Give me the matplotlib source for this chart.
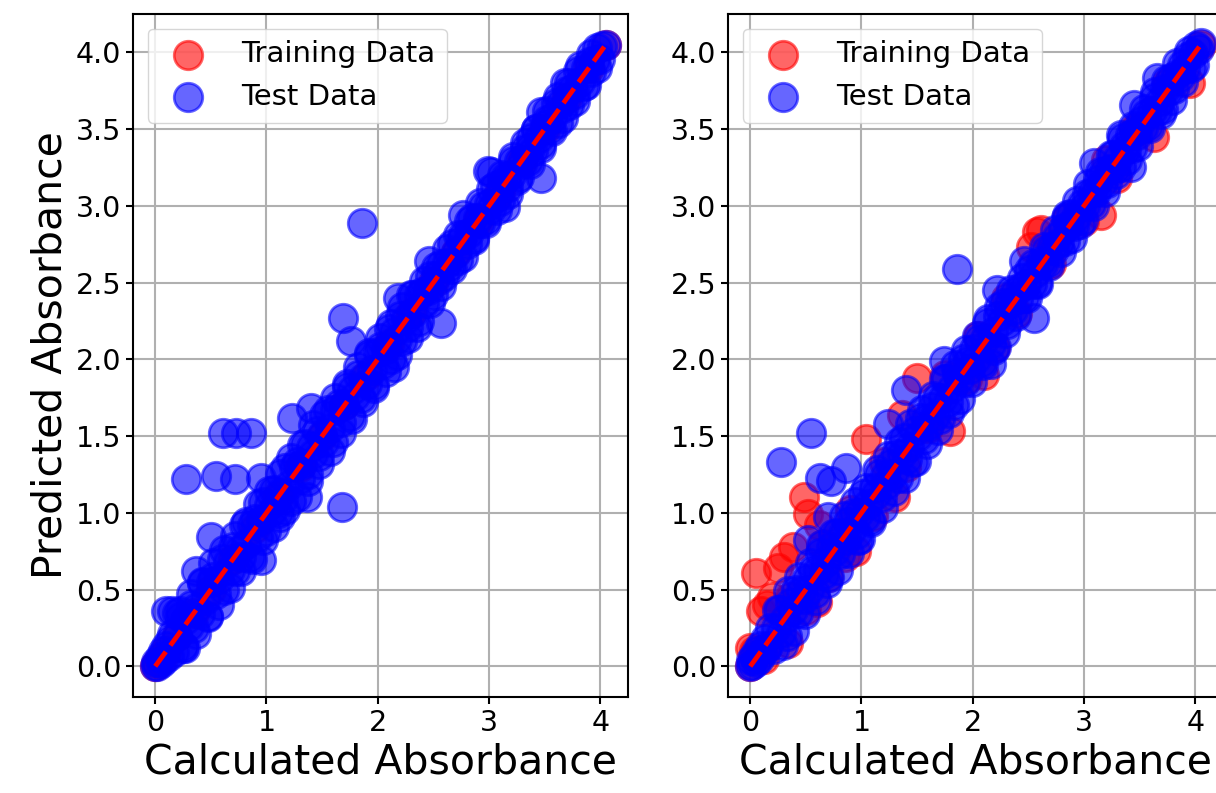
import numpy as np
import matplotlib
matplotlib.use("Agg")
import matplotlib.pyplot as plt

# ---- model A (left) ----
left_train = [
    (0.00, 0.00), (0.02, 0.02), (0.05, 0.05), (0.10, 0.10), (0.20, 0.20),
    (0.35, 0.35), (0.50, 0.50), (0.70, 0.70), (0.90, 0.90), (1.10, 1.10),
    (1.30, 1.30), (1.50, 1.50), (1.70, 1.70), (1.90, 1.90), (2.10, 2.10),
    (2.30, 2.30), (2.50, 2.50), (2.70, 2.70), (2.90, 2.90), (3.10, 3.10),
    (3.30, 3.30), (3.50, 3.50), (3.70, 3.70), (3.90, 3.90), (4.05, 4.05),
]

left_test = [
    (0.00, 0.00), (0.01, 0.03), (0.02, 0.00), (0.04, 0.06), (0.05, 0.02),
    (0.07, 0.10), (0.08, 0.04), (0.10, 0.13), (0.12, 0.07), (0.13, 0.17),
    (0.15, 0.21), (0.17, 0.09), (0.20, 0.20), (0.22, 0.32), (0.25, 0.13),
    (0.27, 0.30), (0.30, 0.26), (0.32, 0.40), (0.35, 0.25), (0.37, 0.38),
    (0.40, 0.34), (0.42, 0.54), (0.45, 0.43), (0.47, 0.33), (0.50, 0.55),
    (0.52, 0.58), (0.55, 0.47), (0.57, 0.57), (0.60, 0.70), (0.62, 0.50),
    (0.65, 0.68), (0.67, 0.63), (0.70, 0.78), (0.72, 0.62), (0.75, 0.76),
    (0.77, 0.71), (0.80, 0.92), (0.82, 0.80), (0.85, 0.71), (0.87, 0.92),
    (0.90, 0.96), (0.92, 0.84), (0.95, 0.95), (0.97, 1.07), (1.00, 0.88),
    (1.02, 1.05), (1.05, 1.01), (1.07, 1.15), (1.10, 1.00), (1.12, 1.13),
    (1.15, 1.09), (1.17, 1.29), (1.20, 1.18), (1.22, 1.08), (1.25, 1.30),
    (1.27, 1.33), (1.30, 1.22), (1.32, 1.32), (1.35, 1.45), (1.37, 1.25),
    (1.40, 1.43), (1.42, 1.38), (1.45, 1.53), (1.47, 1.37), (1.50, 1.51),
    (1.52, 1.46), (1.55, 1.67), (1.57, 1.55), (1.60, 1.46), (1.62, 1.67),
    (1.65, 1.71), (1.67, 1.59), (1.70, 1.70), (1.72, 1.82), (1.75, 1.63),
    (1.77, 1.80), (1.80, 1.76), (1.82, 1.90), (1.85, 1.75), (1.87, 1.88),
    (1.90, 1.84), (1.92, 2.04), (1.95, 1.93), (1.97, 1.83), (2.00, 2.05),
    (2.02, 2.08), (2.05, 1.97), (2.07, 2.07), (2.10, 2.20), (2.12, 2.00),
    (2.15, 2.18), (2.17, 2.13), (2.20, 2.28), (2.22, 2.12), (2.25, 2.26),
    (2.27, 2.21), (2.30, 2.42), (2.32, 2.30), (2.35, 2.21), (2.37, 2.42),
    (2.40, 2.44), (2.42, 2.37), (2.45, 2.45), (2.47, 2.54), (2.50, 2.42),
    (2.52, 2.54), (2.55, 2.52), (2.57, 2.62), (2.60, 2.54), (2.62, 2.63),
    (2.65, 2.61), (2.67, 2.75), (2.70, 2.69), (2.72, 2.65), (2.75, 2.78),
    (2.77, 2.81), (2.80, 2.75), (2.82, 2.82), (2.85, 2.92), (2.87, 2.79),
    (2.90, 2.92), (2.92, 2.89), (2.95, 3.00), (2.97, 2.91), (3.00, 3.01),
    (3.02, 2.98), (3.05, 3.13), (3.07, 3.06), (3.10, 3.03), (3.12, 3.15),
    (3.15, 3.19), (3.17, 3.12), (3.20, 3.20), (3.22, 3.29), (3.25, 3.17),
    (3.27, 3.29), (3.30, 3.27), (3.32, 3.37), (3.35, 3.29), (3.37, 3.38),
    (3.40, 3.36), (3.42, 3.50), (3.45, 3.44), (3.47, 3.40), (3.50, 3.53),
    (3.52, 3.56), (3.55, 3.50), (3.57, 3.57), (3.60, 3.67), (3.62, 3.54),
    (3.65, 3.67), (3.67, 3.64), (3.70, 3.75), (3.72, 3.66), (3.75, 3.76),
    (3.77, 3.73), (3.80, 3.88), (3.82, 3.81), (3.85, 3.78), (3.87, 3.90),
    (3.90, 3.94), (3.92, 3.87), (3.95, 3.95), (3.97, 4.03), (4.00, 3.96),
    (4.02, 4.04), (4.05, 4.05),
    # samples near the edges of the band
    (0.22, 0.36), (0.27, 0.12), (0.32, 0.47), (0.37, 0.21), (0.42, 0.55),
    (0.47, 0.32), (0.52, 0.67), (0.57, 0.40), (0.62, 0.76), (0.67, 0.51),
    (0.72, 0.85), (0.77, 0.62), (0.82, 0.94), (0.87, 0.70), (0.92, 1.06),
    (0.97, 0.82), (1.02, 1.14), (1.07, 0.91), (1.12, 1.25), (1.17, 1.02),
    (1.22, 1.36), (1.27, 1.10), (1.32, 1.44), (1.37, 1.21), (1.42, 1.57),
    (1.47, 1.32), (1.52, 1.64), (1.57, 1.40), (1.62, 1.75), (1.67, 1.52),
    (1.72, 1.84), (1.77, 1.61), (1.82, 1.95), (1.87, 1.72), (1.92, 2.03),
    (1.97, 1.81), (2.02, 2.14), (2.07, 1.92), (2.12, 2.23), (2.17, 2.03),
    (2.22, 2.34), (2.27, 2.14), (2.32, 2.42), (2.37, 2.25), (2.42, 2.51),
    (2.47, 2.37), (2.52, 2.60), (2.57, 2.48), (2.62, 2.72), (2.67, 2.59),
    (2.72, 2.81), (2.77, 2.67), (2.82, 2.90), (2.87, 2.78), (2.92, 3.02),
    (2.97, 2.89), (3.02, 3.11), (3.07, 2.97), (3.12, 3.20), (3.17, 3.08),
    (3.22, 3.32), (3.27, 3.19), (3.32, 3.41), (3.37, 3.27), (3.42, 3.50),
    (3.47, 3.38), (3.52, 3.62), (3.57, 3.49), (3.62, 3.71), (3.67, 3.57),
    (3.72, 3.80), (3.77, 3.68), (3.82, 3.91), (3.87, 3.79), (3.92, 3.99),
    (3.97, 3.90),
    # off-diagonal test samples
    (0.10, 0.36), (0.15, 0.36), (0.20, 0.35), (0.25, 0.12), (0.37, 0.62),
    (0.50, 0.84), (0.28, 1.22), (0.55, 1.24), (0.72, 1.22), (0.95, 1.23),
    (0.61, 1.52), (0.73, 1.52), (0.86, 1.52), (1.23, 1.62), (1.68, 1.04),
    (1.36, 1.10), (0.95, 0.69), (1.12, 0.97), (1.40, 1.68), (1.69, 2.27),
    (1.76, 2.12), (1.86, 2.89), (2.57, 2.24), (2.46, 2.64), (2.18, 2.40),
    (2.99, 3.23), (3.02, 3.22), (3.47, 3.18), (3.14, 2.99), (2.77, 2.94),
    (3.68, 3.80), (3.47, 3.61), (3.38, 3.44), (2.15, 1.95),
]

# ---- model B (right) ----
right_train = [
    (0.00, 0.00), (0.00, 0.12), (0.03, 0.10), (0.05, 0.61), (0.10, 0.36),
    (0.12, 0.05), (0.15, 0.40), (0.20, 0.45), (0.25, 0.64), (0.30, 0.71),
    (0.34, 0.15), (0.36, 0.45), (0.38, 0.78), (0.48, 1.10), (0.52, 0.99),
    (0.50, 0.37), (0.60, 0.42), (0.62, 0.92), (0.65, 0.80), (0.70, 0.58),
    (0.85, 0.71), (0.90, 1.02), (0.95, 0.75), (1.04, 1.48), (1.10, 0.98),
    (1.20, 1.33), (1.30, 1.10), (1.36, 1.64), (1.40, 1.30), (1.50, 1.88),
    (1.60, 1.55), (1.80, 1.53), (1.75, 1.90), (1.95, 1.87), (2.05, 2.15),
    (2.10, 1.90), (2.20, 2.08), (2.30, 2.40), (2.40, 2.30), (2.52, 2.73),
    (2.58, 2.83), (2.61, 2.84), (2.70, 2.62), (2.85, 2.92), (3.00, 2.90),
    (3.15, 2.94), (3.20, 3.30), (3.30, 3.18), (3.45, 3.50), (3.63, 3.45),
    (3.75, 3.80), (3.95, 3.80), (4.05, 4.05),
]

right_test = [
    (0.00, 0.00), (0.01, 0.04), (0.02, 0.01), (0.03, 0.07), (0.05, 0.03),
    (0.06, 0.10), (0.08, 0.05), (0.09, 0.13), (0.11, 0.08), (0.13, 0.18),
    (0.14, 0.11), (0.16, 0.13), (0.18, 0.25), (0.21, 0.11), (0.23, 0.25),
    (0.26, 0.37), (0.28, 0.22), (0.31, 0.31), (0.33, 0.20), (0.36, 0.41),
    (0.38, 0.37), (0.41, 0.50), (0.43, 0.35), (0.46, 0.49), (0.48, 0.44),
    (0.51, 0.57), (0.53, 0.50), (0.56, 0.63), (0.58, 0.48), (0.61, 0.63),
    (0.63, 0.74), (0.66, 0.60), (0.68, 0.68), (0.71, 0.58), (0.73, 0.78),
    (0.76, 0.75), (0.78, 0.87), (0.81, 0.73), (0.83, 0.86), (0.86, 0.82),
    (0.88, 0.94), (0.91, 0.88), (0.93, 1.00), (0.96, 0.86), (0.98, 1.00),
    (1.01, 1.12), (1.03, 0.97), (1.06, 1.06), (1.08, 0.95), (1.11, 1.16),
    (1.13, 1.12), (1.16, 1.25), (1.18, 1.10), (1.21, 1.24), (1.23, 1.19),
    (1.26, 1.32), (1.28, 1.25), (1.31, 1.38), (1.33, 1.23), (1.36, 1.38),
    (1.38, 1.49), (1.41, 1.35), (1.43, 1.43), (1.46, 1.33), (1.48, 1.53),
    (1.51, 1.50), (1.53, 1.62), (1.56, 1.48), (1.58, 1.61), (1.61, 1.57),
    (1.63, 1.69), (1.66, 1.63), (1.68, 1.75), (1.71, 1.61), (1.73, 1.75),
    (1.76, 1.87), (1.78, 1.72), (1.81, 1.81), (1.83, 1.70), (1.86, 1.91),
    (1.88, 1.87), (1.91, 2.00), (1.93, 1.85), (1.96, 1.99), (1.98, 1.94),
    (2.01, 2.07), (2.03, 2.00), (2.06, 2.13), (2.08, 1.98), (2.11, 2.13),
    (2.13, 2.24), (2.16, 2.10), (2.18, 2.18), (2.21, 2.08), (2.23, 2.28),
    (2.26, 2.25), (2.28, 2.37), (2.31, 2.23), (2.33, 2.36), (2.36, 2.32),
    (2.38, 2.44), (2.41, 2.39), (2.43, 2.47), (2.46, 2.40), (2.48, 2.49),
    (2.51, 2.58), (2.53, 2.49), (2.56, 2.56), (2.58, 2.50), (2.61, 2.64),
    (2.63, 2.62), (2.66, 2.71), (2.68, 2.63), (2.71, 2.73), (2.73, 2.71),
    (2.76, 2.80), (2.78, 2.76), (2.81, 2.85), (2.83, 2.77), (2.86, 2.87),
    (2.88, 2.95), (2.91, 2.87), (2.93, 2.93), (2.96, 2.88), (2.98, 3.01),
    (3.01, 3.00), (3.03, 3.08), (3.06, 3.01), (3.08, 3.10), (3.11, 3.09),
    (3.13, 3.17), (3.16, 3.14), (3.18, 3.22), (3.21, 3.15), (3.23, 3.24),
    (3.26, 3.33), (3.28, 3.24), (3.31, 3.31), (3.33, 3.25), (3.36, 3.39),
    (3.38, 3.37), (3.41, 3.46), (3.43, 3.38), (3.46, 3.48), (3.48, 3.46),
    (3.51, 3.55), (3.53, 3.51), (3.56, 3.60), (3.58, 3.52), (3.61, 3.62),
    (3.63, 3.70), (3.66, 3.62), (3.68, 3.68), (3.71, 3.63), (3.73, 3.76),
    (3.76, 3.75), (3.78, 3.83), (3.81, 3.76), (3.83, 3.85), (3.86, 3.84),
    (3.88, 3.92), (3.91, 3.89), (3.93, 3.97), (3.96, 3.90), (3.98, 3.99),
    (4.01, 4.04), (4.03, 4.02), (4.05, 4.06),
    # samples near the edges of the band
    (0.24, 0.37), (0.29, 0.14), (0.34, 0.49), (0.39, 0.23), (0.44, 0.58),
    (0.49, 0.34), (0.54, 0.67), (0.59, 0.43), (0.64, 0.79), (0.69, 0.54),
    (0.74, 0.86), (0.79, 0.63), (0.84, 0.98), (0.89, 0.74), (0.94, 1.07),
    (0.99, 0.83), (1.04, 1.16), (1.09, 0.94), (1.14, 1.28), (1.19, 1.03),
    (1.24, 1.37), (1.29, 1.14), (1.34, 1.46), (1.39, 1.23), (1.44, 1.58),
    (1.49, 1.34), (1.54, 1.67), (1.59, 1.45), (1.64, 1.76), (1.69, 1.54),
    (1.74, 1.87), (1.79, 1.65), (1.84, 1.96), (1.89, 1.74), (1.94, 2.06),
    (1.99, 1.85), (2.04, 2.15), (2.09, 1.96), (2.14, 2.26), (2.19, 2.06),
    (2.24, 2.34), (2.29, 2.17), (2.34, 2.45), (2.39, 2.28), (2.44, 2.53),
    (2.49, 2.40), (2.54, 2.62), (2.59, 2.49), (2.64, 2.73), (2.69, 2.61),
    (2.74, 2.84), (2.79, 2.70), (2.84, 2.92), (2.89, 2.79), (2.94, 3.03),
    (2.99, 2.91), (3.04, 3.14), (3.09, 3.00), (3.14, 3.22), (3.19, 3.09),
    (3.24, 3.33), (3.29, 3.21), (3.34, 3.44), (3.39, 3.30), (3.44, 3.52),
    (3.49, 3.39), (3.54, 3.63), (3.59, 3.51), (3.64, 3.74), (3.69, 3.60),
    (3.74, 3.82), (3.79, 3.69), (3.84, 3.93), (3.89, 3.81), (3.94, 4.01),
    (3.99, 3.92),
    # off-diagonal test samples
    (0.55, 1.52), (0.28, 1.33), (0.63, 1.23), (0.73, 1.21), (0.86, 1.29),
    (0.70, 0.97), (0.52, 0.82), (1.24, 1.58), (1.40, 1.80), (1.86, 2.59),
    (2.55, 2.27), (2.46, 2.64), (1.74, 1.99), (2.22, 2.45), (2.16, 1.97),
    (2.85, 2.94), (3.09, 3.28), (3.33, 3.46), (3.45, 3.66), (3.66, 3.83),
    (3.42, 3.25), (0.97, 0.82),
]

x_ticks = [0, 1, 2, 3, 4]
y_ticks = [0.0, 0.5, 1.0, 1.5, 2.0, 2.5, 3.0, 3.5, 4.0]

plt.rcParams['font.family'] = ['DejaVu Sans']

fig = plt.figure(figsize=(12.16, 7.93), dpi=100)
ax_l = fig.add_axes([133 / 1216, 96 / 793, 495 / 1216, 683 / 793])
ax_r = fig.add_axes([728 / 1216, 96 / 793, 495 / 1216, 683 / 793])


def draw_panel(ax, train, test, with_ylabel):
    tr = np.array(train).T
    te = np.array(test).T
    ax.scatter(tr[0], tr[1], s=420, c='red', alpha=0.6, linewidths=2,
               label='Training Data', zorder=2)
    ax.scatter(te[0], te[1], s=420, c='blue', alpha=0.6, linewidths=2,
               label='Test Data', zorder=3)
    lo = min(tr.min(), te.min())
    hi = max(tr.max(), te.max())
    ax.plot([lo, hi], [lo, hi], 'r--', lw=3.5, zorder=4)
    ax.set_xlim(-0.2, 4.25)
    ax.set_ylim(-0.2, 4.25)
    ax.set_xticks(x_ticks)
    ax.set_yticks(y_ticks)
    ax.set_yticklabels([f"{v:.1f}" for v in y_ticks])
    ax.grid(True, color='#b0b0b0', linewidth=1.5, zorder=0)
    ax.set_axisbelow(True)
    ax.tick_params(labelsize=20.5, length=5, width=1.5)
    for sp in ax.spines.values():
        sp.set_linewidth(1.5)
    ax.set_xlabel('Calculated Absorbance', fontsize=29.5)
    if with_ylabel:
        ax.set_ylabel('Predicted Absorbance', fontsize=29.5)
    ax.legend(loc='upper left', fontsize=21)


draw_panel(ax_l, left_train, left_test, True)
draw_panel(ax_r, right_train, right_test, False)

fig.savefig('out.png', dpi=100)
